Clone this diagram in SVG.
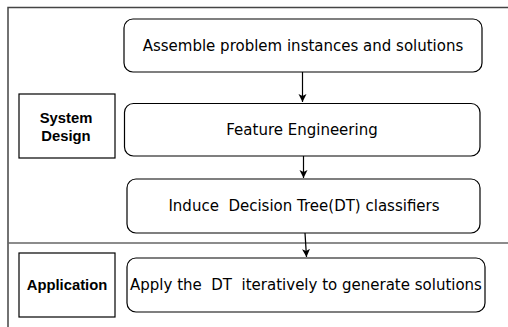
<svg xmlns="http://www.w3.org/2000/svg" width="508" height="327" viewBox="0 0 508 327">
<defs>
<marker id="arr" markerWidth="10" markerHeight="10" refX="8" refY="5" orient="auto" markerUnits="userSpaceOnUse">
<path d="M0,1 L8,5 L0,9 L2,5 Z" fill="#000"/>
</marker>
<style>
.frame{fill:none;stroke:#444;stroke-width:1.5}
.div{fill:none;stroke:#666;stroke-width:1.5}
.node{fill:#fff;stroke:#000;stroke-width:1.2}
.lab{fill:#fff;stroke:#000;stroke-width:1.2}
.t{font-family:"DejaVu Sans",Verdana,sans-serif;font-size:15px;fill:#000;text-anchor:middle;white-space:pre}
.b{font-family:"Liberation Sans",Arial,sans-serif;font-size:14.8px;font-weight:bold;fill:#000;text-anchor:middle}
.c{fill:none;stroke:#000;stroke-width:1.2}
</style>
</defs>
<rect width="508" height="327" fill="#fff"/>
<path class="frame" d="M8,327 V7.5 H508"/>
<line class="div" x1="8" y1="243" x2="508" y2="243"/>
<g id="label-system-design">
<rect class="lab" x="19" y="94" width="96" height="64"/>
<text class="b" x="66" y="123">System</text>
<text class="b" x="66" y="141">Design</text>
</g>
<g id="label-application">
<rect class="lab" x="19" y="253" width="96" height="64"/>
<text class="b" x="67" y="290">Application</text>
</g>
<g id="n1">
<rect class="node" x="124" y="19" width="358" height="53" rx="9"/>
<text class="t" x="303" y="51">Assemble problem instances and solutions</text>
</g>
<g id="n2">
<rect class="node" x="124.5" y="103.5" width="355.5" height="52.5" rx="9"/>
<text class="t" x="302" y="135">Feature Engineering</text>
</g>
<g id="n3">
<rect class="node" x="127" y="179" width="353" height="54" rx="9"/>
<text class="t" x="304" y="211" xml:space="preserve">Induce  Decision Tree(DT) classifiers</text>
</g>
<g id="n4">
<rect class="node" x="127" y="258" width="358" height="54" rx="9"/>
<text class="t" x="306" y="290" xml:space="preserve">Apply the  DT  iteratively to generate solutions</text>
</g>
<g id="connectors">
<line class="c" x1="302.5" y1="72" x2="302.5" y2="102" marker-end="url(#arr)"/>
<line class="c" x1="303.5" y1="156" x2="303.5" y2="178" marker-end="url(#arr)"/>
<line class="c" x1="305" y1="233" x2="306.5" y2="257" marker-end="url(#arr)"/>
</g>
</svg>
